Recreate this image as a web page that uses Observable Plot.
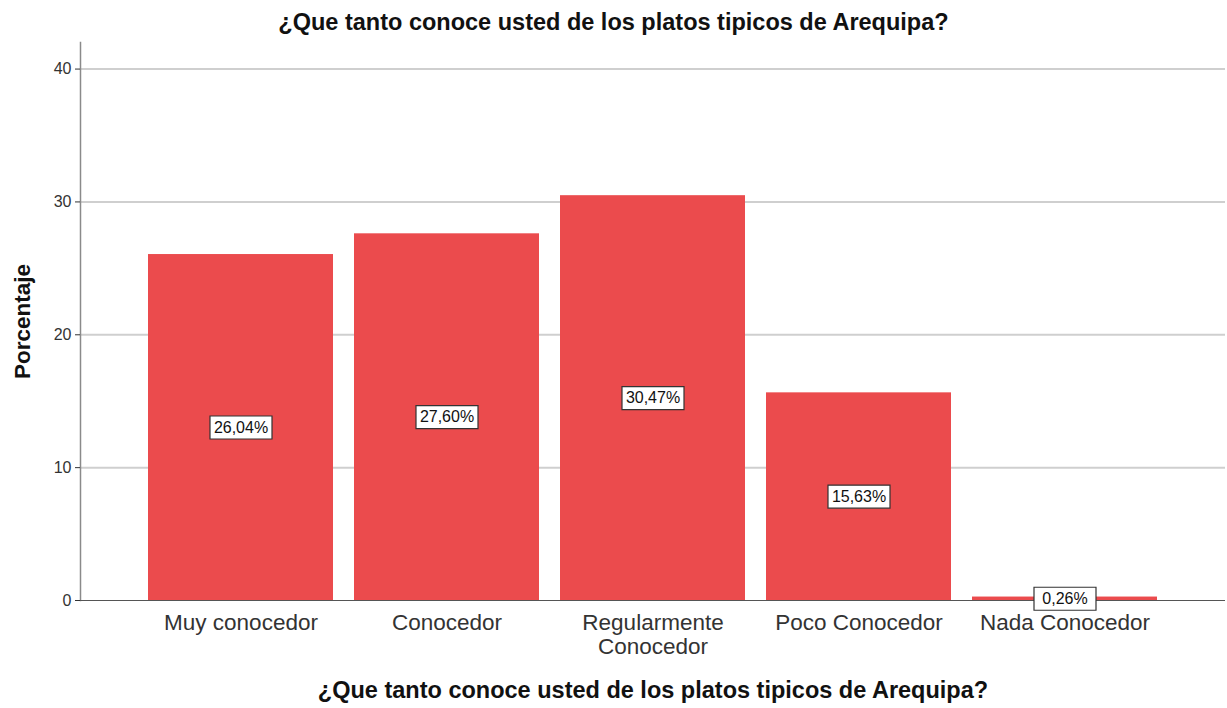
<!DOCTYPE html>
<html>
<head>
<meta charset="utf-8">
<script src="https://cdn.jsdelivr.net/npm/d3@7"></script>
<script src="https://cdn.jsdelivr.net/npm/@observablehq/plot@0.6"></script>
<style>
  body { margin: 0; background: #fff; font-family: "Liberation Sans", Arial, sans-serif; }
  #title { width: 1227px; height: 31px; padding-top: 9px; line-height: 26px; text-align: center; font-weight: bold; font-size: 23.5px; color: #111; }
  svg { display: block; }
</style>
</head>
<body>
<div id="title">¿Que tanto conoce usted de los platos tipicos de Arequipa?</div>
<div id="chart"></div>
<script>
const categories = ["Muy conocedor", "Conocedor", "Regularmente Conocedor", "Poco Conocedor", "Nada Conocedor"];
const percentages = [26.04, 27.60, 30.47, 15.63, 0.26];
const valueLabels = ["26,04%", "27,60%", "30,47%", "15,63%", "0,26%"];
const yTicks = [0, 10, 20, 30, 40];
const gridTicks = [10, 20, 30, 40];
const axisTitle = "¿Que tanto conoce usted de los platos tipicos de Arequipa?";
const yTitle = "Porcentaje";

const data = categories.map((c, i) => ({category: c, value: percentages[i], label: valueLabels[i]}));

const boxSymbol = {
  draw(ctx) {
    ctx.moveTo(-31, -11.5);
    ctx.lineTo(31, -11.5);
    ctx.lineTo(31, 11.5);
    ctx.lineTo(-31, 11.5);
    ctx.closePath();
  }
};

const chart = Plot.plot({
  width: 1227,
  height: 668,
  marginLeft: 80,
  marginRight: 2,
  marginTop: 2,
  marginBottom: 108,
  style: {fontFamily: "'Liberation Sans', Arial, sans-serif", background: "#fff"},
  x: {domain: categories, paddingInner: 0.1, paddingOuter: 0.325},
  y: {domain: [0, 42]},
  marks: [
    Plot.gridY(gridTicks, {stroke: "#cfcfcf", strokeOpacity: 1, strokeWidth: 2}),
    Plot.barY(data, {x: "category", y: "value", fill: "#eb4b4d"}),
    Plot.frame({anchor: "left", stroke: "#8a8a8a", strokeWidth: 1.5}),
    Plot.ruleY([0], {stroke: "#555", strokeWidth: 1.2}),
    Plot.dot(data, {x: "category", y: d => d.value / 2, symbol: boxSymbol, r: 10, fill: "#fff", stroke: "#333", strokeWidth: 1.2}),
    Plot.text(data, {x: "category", y: d => d.value / 2, text: "label", fontSize: 16, fill: "#111"}),
    Plot.axisX({tickSize: 0, tickPadding: 13, fontSize: 22.5, lineHeight: 1.06, color: "#333", label: null,
      tickFormat: d => d === "Regularmente Conocedor" ? "Regularmente\nConocedor" : d}),
    Plot.axisY({ticks: yTicks, tickSize: 5, tickPadding: 4, fontSize: 16, color: "#333", label: null}),
    Plot.text([yTitle], {frameAnchor: "left", textAnchor: "middle", rotate: -90, dx: -58, fontSize: 22.5, fontWeight: "bold", fill: "#111"}),
    Plot.text([axisTitle], {frameAnchor: "bottom", dy: 97, fontSize: 23.5, fontWeight: "bold", fill: "#111"})
  ]
});
document.getElementById("chart").appendChild(chart);
</script>
</body>
</html>
